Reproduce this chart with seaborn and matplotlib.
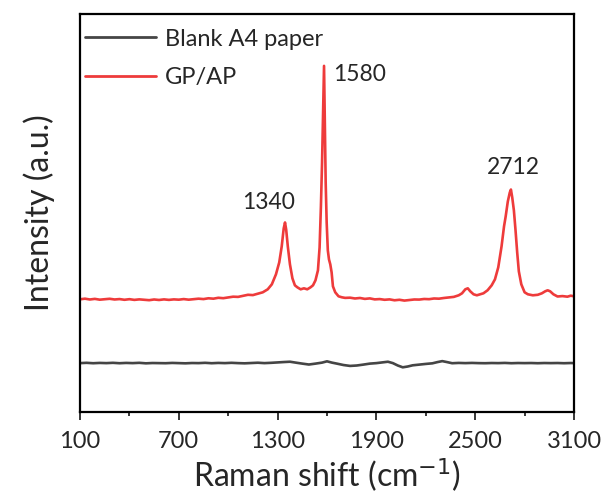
import pandas as pd
import matplotlib
matplotlib.use("Agg")
import matplotlib.pyplot as plt
import seaborn as sns

# Raman spectra (intensity in arbitrary units)
red_x = [100, 130, 160, 190, 220, 250, 280, 310, 340, 370, 400, 430, 460, 490, 520, 550, 580,
         610, 640, 670, 700, 730, 760, 790, 820, 850, 880, 910, 940, 970, 1000, 1030, 1060,
         1090, 1120, 1150, 1180, 1210, 1240, 1265, 1290, 1310, 1325, 1337, 1345, 1352, 1362,
         1375, 1390, 1405, 1420, 1440, 1460, 1480, 1500, 1515, 1530, 1545, 1555, 1563, 1570,
         1576, 1582, 1587, 1592, 1598, 1605, 1612, 1620, 1628, 1636, 1650, 1670, 1690, 1710,
         1740, 1770, 1800, 1830, 1860, 1890, 1920, 1950, 1980, 2010, 2040, 2070, 2100, 2130,
         2160, 2190, 2220, 2250, 2280, 2310, 2340, 2370, 2400, 2420, 2440, 2455, 2470, 2490,
         2510, 2530, 2550, 2575, 2600, 2620, 2640, 2660, 2675, 2685, 2698, 2710, 2717, 2725,
         2735, 2745, 2755, 2765, 2780, 2800, 2820, 2850, 2880, 2905, 2925, 2940, 2955, 2975,
         3000, 3030, 3060, 3080, 3100]
red_y = [113, 113.6, 112.8, 113.4, 112.6, 113, 113.5, 112.8, 113.2, 112.5, 113.1, 112.4, 112.9, 112.5, 112.1,
         112.8, 112.3, 112.9, 112.4, 112.9, 112.6, 113.2, 112.6, 113.1, 113.6, 113.2, 114, 113.6, 114.5, 114.1, 114.8,
         115.6, 115.4, 116.5, 117.5, 117.2, 118.6, 120, 123, 128, 138, 150, 166, 184, 190, 183, 166,
         148, 134, 127, 125, 123, 124, 123, 125, 127, 132, 142, 165, 206, 250,
         300, 347, 290, 230, 190, 162, 153, 148, 140, 126, 120, 116, 115, 114.4,
         114.6, 113.8, 114.3, 113.4, 113.9, 112.9, 113.2, 112.5, 112.9, 112, 112.5, 111.7, 112.2, 112.8,
         112.7, 113.3, 113.1, 113.8, 113.6, 114.3, 114.8, 115.4, 117, 119, 123, 124, 121, 118,
         117, 118, 119, 122, 127, 133, 145, 166, 186, 196, 211, 220, 223, 215,
         202, 182, 160, 141, 128, 120, 118, 117, 117.5, 119, 121, 122, 121, 118,
         115.8, 116.2, 115.6, 116.6, 116]

black_x = [100, 140, 180, 220, 260, 300, 340, 380, 420, 460, 500, 540, 580, 620, 660, 700, 740,
           780, 820, 860, 900, 940, 980, 1020, 1060, 1100, 1140, 1180, 1220, 1260, 1300, 1340,
           1375, 1410, 1450, 1490, 1530, 1570, 1600, 1630, 1660, 1700, 1740, 1780, 1820, 1860,
           1900, 1940, 1970, 2000, 2030, 2060, 2090, 2120, 2160, 2200, 2240, 2270, 2300, 2330,
           2360, 2400, 2440, 2480, 2520, 2560, 2600, 2640, 2680, 2720, 2760, 2800, 2840, 2880,
           2920, 2960, 3000, 3040, 3080, 3100]
black_y = [49, 49.3, 48.9, 49.2, 49, 49.3, 48.9, 49.2, 49, 49.3, 48.8, 49.1, 49, 48.9, 49.2, 49,
           48.8, 49.1, 49, 49.3, 48.9, 49.2, 49, 49.3, 49, 48.8, 49.1, 49.4, 49, 49.3, 49.7, 50.1,
           50.4, 49.5, 48.5, 47.6, 48.5, 49.5, 50.8, 49.5, 48.5, 47.1, 46.2, 46.6, 47.5, 48.5,
           49, 49.8, 50.4, 49, 46.6, 44.8, 45.6, 46.8, 47.5, 48.2, 48.8, 50, 51, 50,
           48.9, 49.2, 49, 49.2, 49, 48.9, 49.1, 49, 49.2, 48.9, 49.1, 49, 49.1, 48.9,
           49.1, 49, 49.1, 48.9, 49.1, 49]

peak_labels = ["1340", "1580", "2712"]
peak_label_x = [1242, 1639, 2733]
peak_label_y = [210, 338, 245]

df = pd.concat([
    pd.DataFrame({"shift": black_x, "intensity": black_y, "sample": "Blank A4 paper"}),
    pd.DataFrame({"shift": red_x, "intensity": red_y, "sample": "GP/AP"}),
])

sns.set_style("ticks")
plt.rcParams["font.family"] = ["Lato", "DejaVu Sans"]

fig = plt.figure(figsize=(6.05, 4.94), dpi=100)
ax = fig.add_axes([80 / 605, 1 - 412 / 494, 494 / 605, 398 / 494])

palette = {"Blank A4 paper": "#454545", "GP/AP": "#EE3B3B"}
sns.lineplot(data=df, x="shift", y="intensity", hue="sample", palette=palette,
             linewidth=1.9, ax=ax, sort=False)

for txt, px, py in zip(peak_labels, peak_label_x, peak_label_y):
    ha = "left" if txt == "1580" else "center"
    ax.text(px, py, txt, ha=ha, va="center", fontsize=16.5)

ax.set_xlim(100, 3100)
ax.set_ylim(0, 399)
ax.set_xticks(range(100, 3101, 600))
ax.set_xticks(range(400, 3100, 600), minor=True)
ax.set_yticks([])
ax.tick_params(axis="x", which="major", length=6, width=1.3, labelsize=17, pad=8, direction="out")
ax.tick_params(axis="x", which="minor", length=3, width=1.3, direction="out")
for s in ax.spines.values():
    s.set_linewidth(1.6)
    s.set_color("black")

ax.set_xlabel("Raman shift (cm$^{-1}$)", fontsize=23, labelpad=3)
ax.set_ylabel("Intensity (a.u.)", fontsize=23, labelpad=18)

leg = ax.legend(loc="upper left", frameon=False, fontsize=17, handlelength=3.0,
                handletextpad=0.4, borderaxespad=0.0, labelspacing=0.75,
                bbox_to_anchor=(0.0, 0.975), borderpad=0.2)
for line in leg.get_lines():
    line.set_linewidth(2)

fig.savefig("out.png", dpi=100)
